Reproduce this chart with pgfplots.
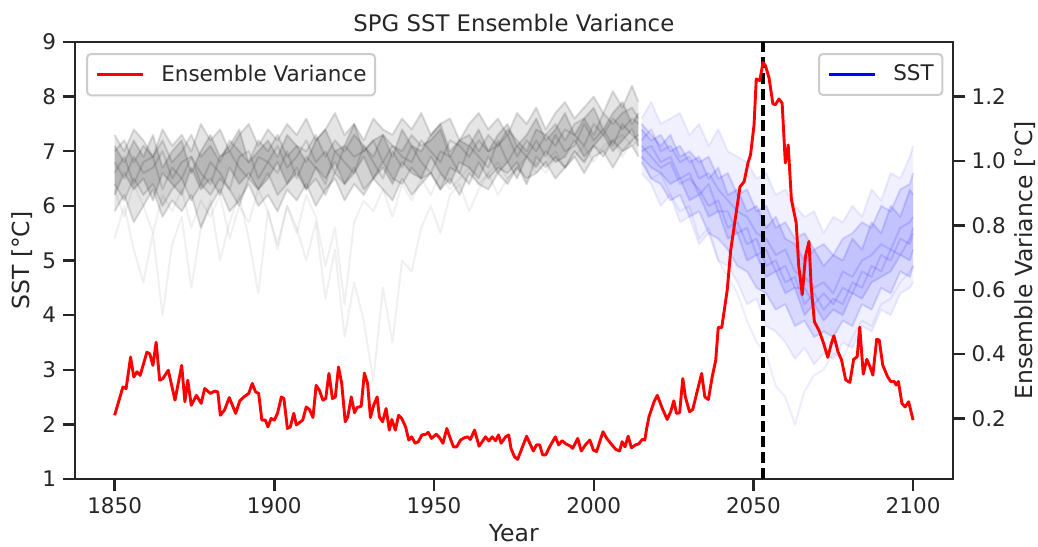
\documentclass[border=0pt]{standalone}
\usepackage{fontspec}
\setmainfont{DejaVu Sans}
\usepackage{pgfplots}
\usepackage{pgfplotstable}
\usepgfplotslibrary{fillbetween}
\pgfplotsset{compat=1.18}
\definecolor{txt}{HTML}{262626}
\definecolor{legframe}{HTML}{CCCCCC}

% historical ensemble members (1850-2014)
\pgfplotstableread{
year g1 g2 g3 g4 g5 g6 g7 g8 g9 g10
1850 7.1 6.2 6.6 7.3 5.9 6.8 6.4 7.0 5.4 6.3
1853 6.8 6.6 6.9 7.0 6.2 6.5 6.1 7.2 6.0 5.8
1856 7.2 6.3 6.4 7.4 5.7 6.9 6.5 6.8 5.2 6.4
1859 6.9 6.5 6.8 7.2 6.0 6.6 6.2 7.1 4.6 6.0
1862 7.3 6.1 6.9 6.9 6.3 6.7 6.4 6.9 5.5 5.5
1865 6.7 6.6 6.3 7.4 5.8 7.0 6.0 7.2 4.0 6.2
1868 7.0 6.4 6.7 7.1 6.1 6.5 6.3 6.8 5.3 5.9
1871 7.2 6.2 6.5 7.3 5.9 6.8 6.5 7.0 5.8 6.3
1874 6.6 6.7 6.9 7.0 6.2 6.9 6.1 7.3 4.5 5.6
1877 7.0 6.3 6.4 7.5 5.6 6.6 6.4 6.9 5.6 6.1
1880 7.3 6.5 6.8 7.2 6.0 6.4 6.2 7.1 6.1 5.8
1883 6.9 6.2 6.6 7.4 6.3 6.9 6.5 6.8 5.0 6.2
1886 7.1 6.7 6.3 7.0 5.9 7.0 6.3 7.2 5.7 5.4
1889 7.4 6.4 6.9 7.3 6.1 6.7 6.0 7.0 6.2 6.0
1892 6.8 6.6 7.0 7.5 6.4 6.5 6.5 6.8 5.4 5.7
1895 7.0 6.3 6.5 7.1 6.0 6.9 6.3 7.2 4.4 6.3
1898 7.2 6.5 6.8 7.4 6.2 6.8 6.6 7.0 5.9 5.9
1901 6.9 6.8 6.6 7.2 5.9 7.1 6.2 7.3 5.2 5.3
1904 7.3 6.4 7.0 7.5 6.3 6.7 6.4 6.9 6.0 6.0
1907 7.1 6.6 6.5 7.3 6.1 6.9 6.7 7.1 5.5 5.6
1910 6.8 6.3 6.9 7.6 6.4 7.2 6.3 7.0 6.2 5.0
1913 7.2 6.7 6.7 7.2 6.0 6.8 6.5 7.3 5.8 5.7
1916 7.4 6.5 6.4 7.4 6.3 7.0 6.2 6.9 4.9 4.3
1919 7.0 6.8 7.0 7.7 6.5 6.6 6.6 7.2 5.6 5.2
1922 7.1 6.4 6.8 7.3 6.1 7.1 6.4 7.0 4.2 3.6
1925 7.5 6.6 6.6 7.5 6.4 6.9 6.7 7.3 5.7 4.6
1928 7.0 6.9 7.1 7.2 6.2 7.0 6.3 7.1 6.1 3.9
1931 7.2 6.5 6.8 7.6 6.5 7.2 6.5 6.9 5.9 2.8
1934 7.3 6.7 6.5 7.4 6.3 6.8 6.8 7.3 6.3 4.5
1937 6.9 6.4 7.0 7.3 6.1 7.1 6.5 7.1 5.8 3.5
1940 7.4 6.8 6.7 7.6 6.5 6.9 6.4 7.0 6.4 5.0
1943 7.1 6.6 7.1 7.4 6.2 6.8 6.7 7.3 6.1 4.8
1946 7.0 6.5 6.8 7.7 6.4 7.2 6.5 7.1 6.5 5.6
1949 7.3 6.9 6.6 7.3 6.6 7.0 6.6 7.2 6.2 6.0
1952 7.5 6.6 7.0 7.5 6.3 6.8 6.3 7.4 6.6 5.5
1955 7.0 6.4 6.9 7.6 6.5 7.2 6.7 6.9 6.3 6.2
1958 7.2 6.8 6.6 7.2 6.2 7.1 6.6 7.2 6.5 6.4
1961 7.1 6.7 7.1 7.5 6.6 6.9 6.4 7.3 6.7 5.9
1964 7.4 6.5 6.9 7.7 6.4 7.2 6.8 7.0 6.4 6.3
1967 7.0 6.9 6.7 7.4 6.3 7.0 6.5 7.3 6.6 6.6
1970 7.3 6.6 7.2 7.6 6.6 7.1 6.7 7.1 6.8 6.2
1973 7.5 6.8 6.8 7.3 6.4 7.3 6.6 7.4 6.5 6.5
1976 7.1 6.5 7.1 7.7 6.7 6.9 6.8 7.2 6.7 6.7
1979 7.3 6.9 6.9 7.5 6.5 7.2 6.4 7.0 6.9 6.4
1982 7.6 6.7 7.2 7.8 6.6 7.0 6.9 7.4 6.6 6.8
1985 7.2 7.0 6.9 7.4 6.8 7.3 6.7 7.3 6.8 6.6
1988 7.4 6.8 7.3 7.7 6.5 7.1 6.9 7.5 7.0 6.9
1991 7.7 6.9 7.0 7.9 6.7 7.4 6.7 7.2 6.7 6.7
1994 7.3 7.2 7.1 7.6 6.9 7.3 7.0 7.5 6.9 7.0
1997 7.6 6.9 7.5 7.8 6.6 7.1 6.8 7.6 7.1 6.8
2000 7.8 7.1 7.2 8.0 6.9 7.5 7.1 7.3 6.8 7.1
2003 7.4 7.3 7.4 7.7 7.0 7.3 6.9 7.7 7.1 7.0
2006 7.7 7.0 7.1 8.1 6.7 7.6 7.2 7.5 7.2 7.2
2009 7.9 7.2 7.5 7.8 7.0 7.4 7.0 7.7 6.9 7.3
2012 7.5 7.4 7.3 8.2 7.1 7.6 7.2 7.8 7.2 7.1
2014 7.7 7.1 7.2 7.9 6.9 7.5 7.3 7.6 7.1 7.2
}\histtab

% scenario ensemble members (2015-2100)
\pgfplotstableread{
year b1 b2 b3 b4 b5 b6 b7 b8 b9 b10
2015 7.6 7.4 7.2 7.0 6.9 6.8 6.6 7.5 7.1 6.9
2018 7.9 7.2 7.4 7.1 6.7 6.5 6.4 7.3 6.9 6.5
2021 7.5 7.3 7.0 6.8 6.6 6.4 6.0 7.1 6.7 6.6
2024 7.6 7.0 7.1 6.9 6.4 6.1 6.2 7.3 6.8 6.2
2027 7.7 7.1 6.8 6.5 6.5 6.2 5.7 6.9 6.4 5.9
2030 7.3 6.8 6.9 6.6 6.1 5.8 5.8 7.0 6.5 6.0
2033 7.5 6.9 6.5 6.2 6.2 5.9 5.3 6.8 6.3 5.4
2036 7.1 6.5 6.6 6.4 5.8 5.5 5.5 6.9 6.0 5.6
2039 7.4 6.7 6.3 5.9 5.9 5.4 5.0 6.5 6.1 5.0
2042 7.0 6.2 6.1 5.9 5.4 5.2 4.9 6.6 5.6 4.7
2045 6.9 6.3 5.9 5.5 5.5 4.9 4.6 6.2 5.7 4.4
2048 6.8 5.9 5.8 5.6 5.0 4.8 4.2 6.3 5.3 3.9
2051 6.5 6.0 5.5 5.1 5.1 4.5 4.3 5.9 5.4 3.5
2054 6.6 5.6 5.4 5.2 4.7 4.4 3.8 6.0 4.9 3.3
2057 6.2 5.8 5.1 4.8 4.8 4.1 3.7 5.6 5.0 2.7
2060 6.3 5.4 5.2 4.9 4.4 4.2 3.5 5.7 4.6 2.5
2063 6.0 5.3 4.8 4.5 4.5 3.8 3.2 5.4 4.7 2.0
2066 5.8 5.0 4.7 4.5 4.0 3.9 3.4 5.5 4.2 2.6
2069 5.9 5.2 4.5 4.2 4.2 3.6 3.1 5.2 4.4 2.9
2072 5.5 4.9 4.6 4.4 3.9 3.7 3.3 5.3 4.1 3.0
2075 5.8 5.1 4.4 4.2 4.1 3.6 3.2 5.1 4.3 3.3
2078 5.7 5.0 4.8 4.5 4.0 3.9 3.5 5.4 4.2 3.2
2081 6.0 5.4 4.7 4.4 4.4 3.8 3.4 5.5 4.6 3.6
2084 5.8 5.2 5.0 4.8 4.3 4.2 3.8 5.7 4.5 3.9
2087 6.3 5.7 5.1 4.7 4.6 4.1 3.7 5.6 4.9 3.8
2090 6.1 5.5 5.3 5.1 4.7 4.5 4.1 6.0 4.8 4.2
2093 6.6 6.0 5.2 5.0 4.8 4.4 4.0 5.9 5.2 4.3
2096 6.5 5.8 5.6 5.4 5.1 4.8 4.4 6.3 5.1 4.6
2099 6.9 6.3 5.7 5.3 5.0 4.7 4.5 6.4 5.4 4.8
2100 7.1 6.2 5.8 5.5 5.2 4.9 4.6 6.6 5.6 4.9
}\scentab

\pgfplotsset{
  common/.style={
    at={(37.35pt,33.5pt)}, anchor=south west,
    scale only axis, width=439.15pt, height=218.5pt,
    xmin=1837.5, xmax=2112.5,
    tick align=outside, major tick length=5.75pt,
    every tick/.style={txt, line width=1.2pt},
    axis line style={txt, line width=1.2pt},
    tick label style={font=\fontsize{10.75}{12}\selectfont, text=txt},
    /pgf/number format/assume math mode=true,
    label style={font=\fontsize{11.75}{14}\selectfont, text=txt},
    legend style={draw=legframe, line width=1pt, rounded corners=2pt, fill=white,
      fill opacity=0.8, text opacity=1, draw opacity=1,
      font=\fontsize{10.75}{12}\selectfont, text=txt,
      inner xsep=4.3pt, inner ysep=5.5pt, column sep=8.5pt,
      nodes={inner sep=0pt}},
    legend image code/.code={\draw[##1] (0pt,0pt) -- (22.9pt,0pt);},
  }
}

\begin{document}
\begin{tikzpicture}[x=1pt,y=1pt]
\begin{axis}[common,
  ymin=1, ymax=9,
  xtick={1850,1900,1950,2000,2050,2100},
  ytick={1,2,3,4,5,6,7,8,9},
  xtick pos=left, ytick pos=left,
  x tick label style={/pgf/number format/1000 sep={}},
  xlabel={Year}, ylabel={SST [°C]},
  xlabel style={at={(axis description cs:0.5,-0.1236)}, anchor=center},
  ylabel style={at={(axis description cs:-0.060,0.5)}, anchor=center},
  title={SPG SST Ensemble Variance},
  every axis title shift=0pt,
  title style={at={(axis description cs:0.5,1.0435)}, anchor=center, yshift=0pt,
    font=\fontsize{11.4}{14}\selectfont, text=txt},
  legend style={at={(0.989,0.9748)}, anchor=north east},
]
\pgfplotsinvokeforeach{g1,g2,g3,g4,g5,g6,g7,g8}{
  \addplot[black, draw opacity=0.13, line width=1.0pt, line join=round, forget plot, name path=#1]
    table[x=year, y=#1]{\histtab};
}
\pgfplotsinvokeforeach{g9,g10}{
  \addplot[black, draw opacity=0.06, line width=1.0pt, line join=round, forget plot]
    table[x=year, y=#1]{\histtab};
}
\addplot[black, fill opacity=0.10, draw=none, forget plot] fill between[of=g4 and g5];
\addplot[black, fill opacity=0.13, draw=none, forget plot] fill between[of=g1 and g2];
\addplot[black, fill opacity=0.08, draw=none, forget plot] fill between[of=g8 and g7];
\pgfplotsinvokeforeach{b2,b3,b4,b5,b6,b8,b9}{
  \addplot[blue, draw opacity=0.13, line width=1.0pt, line join=round, forget plot, name path=#1]
    table[x=year, y=#1]{\scentab};
}
\pgfplotsinvokeforeach{b1,b7,b10}{
  \addplot[blue, draw opacity=0.07, line width=1.0pt, line join=round, forget plot, name path=#1]
    table[x=year, y=#1]{\scentab};
}
\addplot[blue, fill opacity=0.06, draw=none, forget plot] fill between[of=b1 and b7];
\addplot[blue, fill opacity=0.10, draw=none, forget plot] fill between[of=b2 and b6];
\addplot[blue, fill opacity=0.10, draw=none, forget plot] fill between[of=b8 and b5];
\addlegendimage{blue, line width=1.45pt}
\addlegendentry{SST}
\end{axis}

\begin{axis}[common,
  ymin=0.012, ymax=1.37,
  axis x line=none, axis y line*=right,
  ytick={0.2,0.4,0.6,0.8,1.0,1.2},
  yticklabel style={/pgf/number format/.cd, fixed, fixed zerofill, precision=1},
  ylabel={Ensemble Variance [°C]},
  ylabel style={at={(axis description cs:1.082,0.5)}, anchor=center},
  legend style={at={(0.0129,0.9748)}, anchor=north west},
]
\addplot[black, line width=1.6pt, dash pattern=on 5.5pt off 2.4pt, forget plot]
  coordinates {(2053,0.012) (2053,1.37)};
\addplot[red, line width=1.45pt, line join=round] coordinates {
(1850,0.210) (1852.6,0.298) (1853.6,0.293) (1855.0,0.391) (1856.0,0.329) (1857.0,0.345)
(1858.0,0.334) (1860.1,0.406) (1861.0,0.401) (1862.0,0.365) (1863.0,0.437) (1864.1,0.319)
(1865.1,0.324) (1866.8,0.350) (1868.9,0.257) (1871.0,0.365) (1872.0,0.252) (1872.9,0.319)
(1874.0,0.241) (1875.6,0.272) (1877.1,0.247) (1878.2,0.293) (1880.0,0.278) (1881.3,0.285)
(1882.3,0.283) (1883.1,0.210) (1884.4,0.226) (1885.9,0.265) (1887.9,0.216) (1889.2,0.255)
(1890.6,0.268) (1892.0,0.278) (1893.1,0.309) (1894.1,0.283) (1895.1,0.278) (1896.1,0.195)
(1897.2,0.195) (1898.0,0.174) (1899.0,0.200) (1900.0,0.195) (1901.0,0.216) (1902.2,0.267)
(1903.0,0.262) (1904.1,0.169) (1905.0,0.174) (1906.1,0.216) (1906.9,0.180) (1908.9,0.195)
(1910.0,0.236) (1911.0,0.228) (1912.1,0.203) (1913.1,0.303) (1914.1,0.288) (1915.2,0.257)
(1916.1,0.262) (1917.1,0.340) (1918.2,0.262) (1919.1,0.267) (1920.1,0.360) (1921.1,0.309)
(1922.2,0.190) (1923.0,0.205) (1924.1,0.267) (1925.1,0.218) (1925.9,0.234) (1927.2,0.238)
(1928.2,0.341) (1929.2,0.309) (1930.1,0.203) (1931.1,0.241) (1932.2,0.267) (1932.9,0.205)
(1933.9,0.190) (1935.0,0.231) (1936.0,0.164) (1936.8,0.197) (1937.9,0.164) (1938.9,0.210)
(1939.9,0.200) (1941.1,0.174) (1942.1,0.133) (1943.0,0.143) (1944.1,0.123) (1945.1,0.128)
(1946.2,0.149) (1947.5,0.151) (1948.2,0.157) (1949.2,0.138) (1950.7,0.151) (1951.7,0.141)
(1952.8,0.123) (1954.0,0.169) (1955.1,0.138) (1956.1,0.112) (1957.1,0.112) (1958.3,0.133)
(1959.5,0.140) (1960.5,0.143) (1961.4,0.135) (1962.7,0.164) (1964.1,0.114) (1965.1,0.128)
(1966.1,0.143) (1967.2,0.130) (1968.2,0.143) (1969.3,0.131) (1970.2,0.149) (1971.0,0.123)
(1972.4,0.143) (1973.4,0.149) (1974.1,0.107) (1975.2,0.081) (1976.2,0.073) (1977.5,0.107)
(1979.0,0.145) (1980.0,0.123) (1981.1,0.099) (1982.1,0.118) (1983.1,0.118) (1984.0,0.087)
(1985.0,0.087) (1986.2,0.112) (1988.0,0.143) (1989.0,0.118) (1990.1,0.131) (1991.3,0.121)
(1992.7,0.114) (1993.4,0.107) (1995.0,0.138) (1996.1,0.099) (1997.4,0.118) (1998.8,0.133)
(1999.9,0.102) (2000.9,0.097) (2002.9,0.159) (2004.1,0.138) (2005.3,0.123) (2006.9,0.104)
(2008.1,0.099) (2008.9,0.128) (2009.8,0.112) (2010.8,0.145) (2011.8,0.109) (2013.1,0.118)
(2014.1,0.121) (2015.2,0.135) (2016.0,0.133) (2016.6,0.170) (2017.3,0.205) (2018.9,0.252)
(2019.9,0.272) (2021.5,0.231) (2023.0,0.197) (2024.1,0.221) (2025.1,0.255) (2025.9,0.216)
(2026.9,0.218) (2027.9,0.324) (2028.7,0.267) (2030.0,0.221) (2031.0,0.228) (2032.5,0.288)
(2033.8,0.340) (2034.8,0.267) (2035.9,0.259) (2037.1,0.329) (2038.2,0.381) (2039.0,0.483)
(2040.1,0.483) (2041.8,0.599) (2042.9,0.723) (2044.5,0.832) (2045.8,0.920) (2047.1,0.936)
(2048.3,0.994) (2049.1,1.019) (2050.2,1.112) (2050.9,1.255) (2052.0,1.250) (2053.0,1.306)
(2053.8,1.296) (2054.9,1.258) (2056.1,1.178) (2056.9,1.175) (2058.0,1.193) (2059.0,1.180)
(2060.0,0.994) (2060.9,1.050) (2061.9,0.880) (2063.4,0.808) (2064.2,0.673) (2065.3,0.585)
(2066.3,0.704) (2067.4,0.750) (2068.1,0.610) (2069.1,0.501) (2070.7,0.470) (2072.0,0.433)
(2073.3,0.390) (2074.4,0.433) (2075.2,0.457) (2076.5,0.407) (2077.6,0.382) (2078.9,0.320)
(2080.2,0.312) (2081.4,0.384) (2082.5,0.392) (2083.3,0.484) (2084.4,0.338) (2085.5,0.384)
(2086.5,0.361) (2087.4,0.335) (2088.6,0.446) (2089.4,0.444) (2090.5,0.366) (2092.0,0.330)
(2093.0,0.315) (2094.1,0.315) (2094.7,0.304) (2095.4,0.315) (2096.5,0.247) (2097.5,0.236)
(2098.6,0.252) (2100,0.195)
};
\addlegendentry{Ensemble Variance}
\end{axis}
\pgfresetboundingbox
\path[use as bounding box] (0,0) rectangle (519,273);
\end{tikzpicture}
\end{document}
